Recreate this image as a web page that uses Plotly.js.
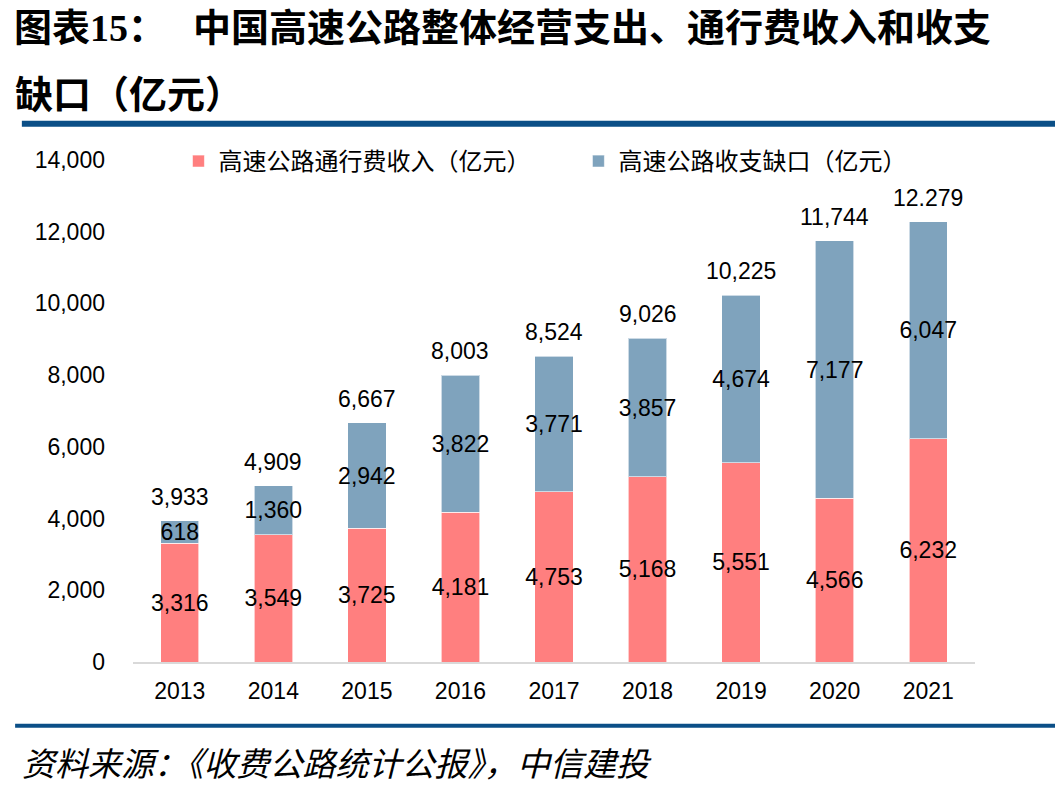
<!DOCTYPE html>
<html>
<head>
<meta charset="utf-8">
<script src="https://cdn.plot.ly/plotly-3.0.1.min.js"></script>
<style>
  html, body { margin: 0; padding: 0; background: #fff; }
  #chart { width: 1055px; height: 794px; }
</style>
</head>
<body>
<div id="chart"></div>
<script>
// 年份
const years = ['2013', '2014', '2015', '2016', '2017', '2018', '2019', '2020', '2021'];
// 高速公路通行费收入（亿元）
const tollIncome = [3316, 3549, 3725, 4181, 4753, 5168, 5551, 4566, 6232];
// 高速公路收支缺口（亿元）
const gap = [618, 1360, 2942, 3822, 3771, 3857, 4674, 7177, 6047];
// 整体经营支出（柱顶标注）
const totals = [3933, 4909, 6667, 8003, 8524, 9026, 10225, 11744, 12279];
const totalLabels = ['3,933', '4,909', '6,667', '8,003', '8,524', '9,026', '10,225', '11,744', '12.279'];

const seriesNames = ['高速公路通行费收入（亿元）', '高速公路收支缺口（亿元）'];
const yTicks = [0, 2000, 4000, 6000, 8000, 10000, 12000, 14000];

const numFont = 'Liberation Sans, Arial, sans-serif';
const cjkFont = 'Noto Sans CJK SC, sans-serif';
const fmt = v => v.toLocaleString('en-US');

const barCommon = {
  type: 'bar',
  x: years,
  textposition: 'inside',
  insidetextanchor: 'middle',
  constraintext: 'none',
  textangle: 0,
  insidetextfont: { family: numFont, size: 23, color: '#000' },
  hoverinfo: 'skip'
};

const traces = [
  Object.assign({}, barCommon, {
    name: seriesNames[0],
    y: tollIncome,
    text: tollIncome.map(fmt),
    legend: 'legend',
    marker: { color: '#FF7F7F', line: { width: 1, color: 'rgba(255,255,255,0.6)' } }
  }),
  Object.assign({}, barCommon, {
    name: seriesNames[1],
    y: gap,
    text: gap.map(fmt),
    legend: 'legend2',
    marker: { color: '#7FA3BD', line: { width: 1, color: 'rgba(255,255,255,0.6)' } }
  })
];

// 柱顶总额标注：x 用类别序号，避免被当作数值参与自动范围
const annotations = years.map((yr, i) => ({
  x: i, y: totals[i], xref: 'x', yref: 'y',
  text: totalLabels[i], showarrow: false,
  yanchor: 'bottom', yshift: 9,
  font: { family: numFont, size: 23, color: '#000' }
}));

annotations.push(
  { xref: 'paper', yref: 'paper', x: -0.143, y: 1.27, xanchor: 'left', yanchor: 'middle',
    height: 44, borderpad: 0,
    text: '<b>图表</b><b style="font-family:Liberation Serif, serif">15</b><b>：</b>', showarrow: false,
    font: { family: cjkFont, size: 38, color: '#000' } },
  { xref: 'paper', yref: 'paper', x: 0.07, y: 1.27, xanchor: 'left', yanchor: 'middle',
    height: 44, borderpad: 0,
    text: '<b>中国高速公路整体经营支出、通行费收入和收支</b>', showarrow: false,
    font: { family: cjkFont, size: 38, color: '#000' } },
  { xref: 'paper', yref: 'paper', x: -0.143, y: 1.137, xanchor: 'left', yanchor: 'middle',
    text: '<b>缺口（亿元）</b>', showarrow: false,
    font: { family: cjkFont, size: 38, color: '#000' } },
  { xref: 'paper', yref: 'paper', x: -0.134, y: -0.199, xanchor: 'left', yanchor: 'middle',
    text: '<i>资料来源：《收费公路统计公报》，中信建投</i>', showarrow: false,
    font: { family: cjkFont, size: 33, color: '#000' } }
);

const legendCommon = {
  orientation: 'h',
  y: 0.997, xanchor: 'left', yanchor: 'middle',
  font: { family: cjkFont, size: 24, color: '#000' },
  bgcolor: 'rgba(0,0,0,0)'
};

const layout = {
  width: 1055,
  height: 794,
  margin: { l: 133, r: 80, t: 160, b: 132 },
  paper_bgcolor: '#fff',
  plot_bgcolor: '#fff',
  barmode: 'stack',
  bargap: 0.59,
  showlegend: true,
  legend: Object.assign({}, legendCommon, { x: 0.054 }),
  legend2: Object.assign({}, legendCommon, { x: 0.529 }),
  xaxis: {
    type: 'category',
    range: [-0.5, years.length - 0.5],
    showline: true, linecolor: '#d9d9d9', linewidth: 2,
    ticks: '', showgrid: false, zeroline: false,
    tickfont: { family: numFont, size: 23, color: '#000' },
    ticklabelstandoff: 7
  },
  yaxis: {
    range: [0, 14000],
    tickvals: yTicks,
    ticktext: yTicks.map(fmt),
    showline: false, showgrid: false, zeroline: false, ticks: '',
    tickfont: { family: numFont, size: 23, color: '#000' },
    ticklabelstandoff: 27
  },
  annotations: annotations,
  shapes: [
    { type: 'line', xref: 'paper', yref: 'paper', x0: -0.132, x1: 1.1, y0: 1.072, y1: 1.072,
      line: { color: '#0B4F87', width: 6 } },
    { type: 'line', xref: 'paper', yref: 'paper', x0: -0.14, x1: 1.1, y0: -0.127, y1: -0.127,
      line: { color: '#0B4F87', width: 4 } }
  ]
};

Plotly.newPlot('chart', traces, layout, { displayModeBar: false, staticPlot: true });
</script>
</body>
</html>
